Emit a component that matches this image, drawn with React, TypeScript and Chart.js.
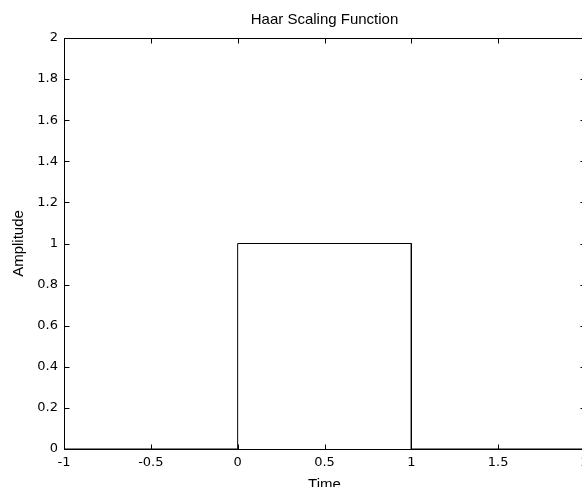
import React, { useEffect, useRef } from "react";
import { Chart, registerables } from "chart.js";

Chart.register(...registerables);

const titleText = "Haar Scaling Function";
const xLabel = "Time";
const yLabel = "Amplitude";
const timeValues = [-1, 0, 0, 1, 1, 2];
const amplitudeValues = [0, 0, 1, 1, 0, 0];
const xTickValues = [-1, -0.5, 0, 0.5, 1, 1.5, 2];
const yTickValues = [0, 0.2, 0.4, 0.6, 0.8, 1, 1.2, 1.4, 1.6, 1.8, 2];

const TICK_FONT = "'DejaVu Sans', Verdana, sans-serif";
const TEXT_FONT = "'Liberation Sans', Arial, Helvetica, sans-serif";

const boxPlugin = {
  id: "matlabBox",
  afterDraw(chart: any) {
    const { ctx, chartArea } = chart;
    const { left, right, top, bottom } = chartArea;
    const xs = chart.scales.x;
    const ys = chart.scales.y;
    const L = Math.round(left) + 0.5;
    const R = Math.round(right) + 0.5;
    const T = Math.round(top) + 0.5;
    const B = Math.round(bottom) + 0.5;
    const len = 5;
    ctx.save();
    ctx.strokeStyle = "#000";
    ctx.lineWidth = 1;
    ctx.beginPath();
    ctx.rect(L, T, R - L, B - T);
    for (const v of xTickValues) {
      const px = Math.round(xs.getPixelForValue(v)) + 0.5;
      ctx.moveTo(px, B);
      ctx.lineTo(px, B - len);
      ctx.moveTo(px, T);
      ctx.lineTo(px, T + len);
    }
    for (const v of yTickValues) {
      const py = Math.round(ys.getPixelForValue(v)) + 0.5;
      ctx.moveTo(L, py);
      ctx.lineTo(L + len, py);
      ctx.moveTo(R, py);
      ctx.lineTo(R - len, py);
    }
    ctx.stroke();
    ctx.restore();
  },
};

const fmt = (v: number) => String(Number(Number(v).toFixed(2)));

export default function App() {
  const ref = useRef<HTMLCanvasElement | null>(null);
  useEffect(() => {
    if (!ref.current) return;
    const chart = new Chart(ref.current, {
      type: "line",
      data: {
        datasets: [
          {
            data: timeValues.map((x, i) => ({ x, y: amplitudeValues[i] })),
            borderColor: "#000",
            borderWidth: 1,
            pointRadius: 0,
            fill: false,
            tension: 0,
          },
        ],
      },
      options: {
        responsive: false,
        animation: false,
        devicePixelRatio: 1,
        layout: { padding: { left: 0, right: 15, top: 0, bottom: 0 } },
        plugins: {
          legend: { display: false },
          tooltip: { enabled: false },
          title: {
            display: true,
            text: titleText,
            fullSize: false,
            color: "#000",
            font: { family: TEXT_FONT, size: 15, weight: "normal", lineHeight: 1.2 },
            padding: { top: 11, bottom: 9 },
          },
        },
        scales: {
          x: {
            type: "linear",
            min: -1,
            max: 2,
            afterFit(scale: any) {
              scale.height = 38;
            },
            afterBuildTicks(scale: any) {
              scale.ticks = xTickValues.map((v) => ({ value: v }));
            },
            grid: { display: false, drawTicks: false },
            border: { display: false },
            ticks: {
              color: "#000",
              font: { family: TICK_FONT, size: 13 },
              padding: 6,
              maxRotation: 0,
              autoSkip: false,
              callback: (v: any) => fmt(v),
            },
            title: {
              display: true,
              text: xLabel,
              color: "#000",
              font: { family: TEXT_FONT, size: 15, lineHeight: 1.2 },
              padding: { top: 0, bottom: -7 },
            },
          },
          y: {
            type: "linear",
            min: 0,
            max: 2,
            afterFit(scale: any) {
              scale.width = 64;
            },
            afterBuildTicks(scale: any) {
              scale.ticks = yTickValues.map((v) => ({ value: v }));
            },
            grid: { display: false, drawTicks: false },
            border: { display: false },
            ticks: {
              color: "#000",
              font: { family: TICK_FONT, size: 13 },
              padding: 6,
              autoSkip: false,
              callback: (v: any) => fmt(v),
            },
            title: {
              display: true,
              text: yLabel,
              color: "#000",
              font: { family: TEXT_FONT, size: 15, lineHeight: 1.2 },
              padding: { top: 10, bottom: 0 },
            },
          },
        },
      } as any,
      plugins: [boxPlugin],
    });
    return () => chart.destroy();
  }, []);

  return (
    <div
      style={{
        position: "fixed",
        left: 0,
        top: 0,
        width: 582,
        height: 487,
        overflow: "hidden",
        background: "#fff",
      }}
    >
      <canvas ref={ref} width={600} height={487} style={{ display: "block" }} />
    </div>
  );
}
